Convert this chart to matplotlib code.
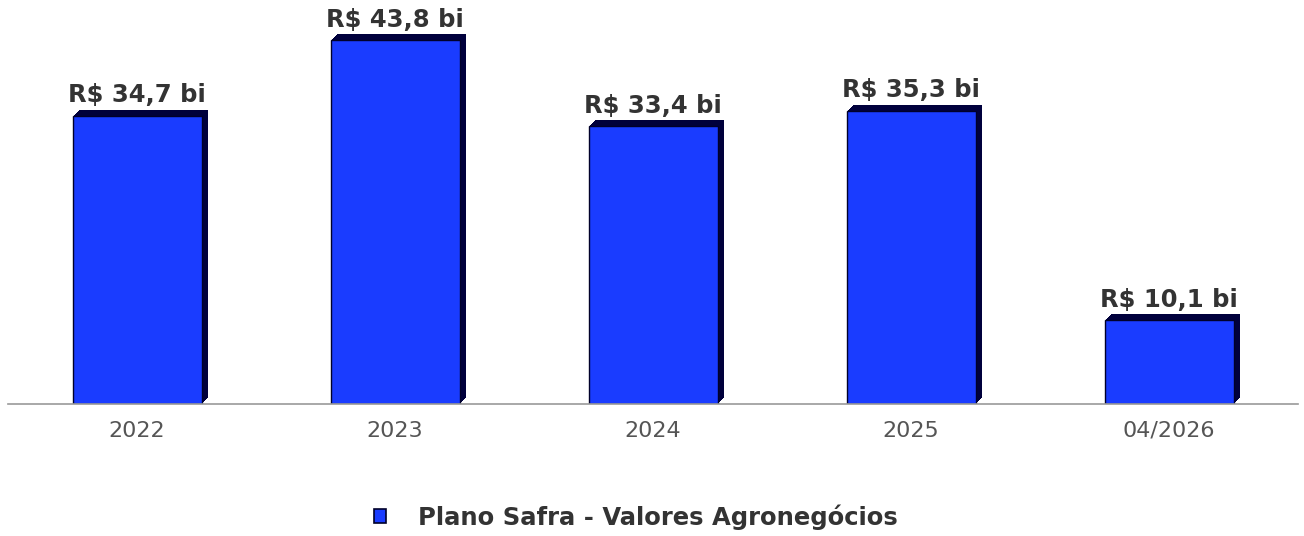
import matplotlib
matplotlib.use("Agg")
import matplotlib.pyplot as plt
import matplotlib.transforms as mtransforms
from matplotlib.patches import Patch

plt.rcParams["font.family"] = ["DejaVu Sans"]

categories = ["2022", "2023", "2024", "2025", "04/2026"]
values = [34.7, 43.8, 33.4, 35.3, 10.1]
labels = ["R$ 34,7 bi", "R$ 43,8 bi", "R$ 33,4 bi", "R$ 35,3 bi", "R$ 10,1 bi"]
series_name = "Plano Safra - Valores Agronegócios"

W, H = 1304, 536
fig = plt.figure(figsize=(W / 100, H / 100), dpi=100)
ax = fig.add_axes([8 / W, 132 / H, 1290 / W, 399 / H])

x = list(range(len(categories)))
# 3D-like extrusion (dark shadow offset up-right)
for k in range(1, 7):
    tr = ax.transData + mtransforms.ScaledTranslation(k / 100, k / 100, fig.dpi_scale_trans)
    ax.bar(x, values, width=0.5, color="#00003c", edgecolor="none",
           linewidth=0, zorder=2, transform=tr)
ax.bar(x, values, width=0.5, color="#1a3cff", edgecolor="#00002a",
       linewidth=1.0, zorder=3)

for xi, v, lab in zip(x, values, labels):
    ax.annotate(lab, (xi, v), xytext=(0, 6), textcoords="offset points",
                ha="center", va="bottom", fontsize=17.5, fontweight="bold",
                color="#333333", zorder=5)

ax.set_xlim(-0.5, len(categories) - 0.5)
ax.set_ylim(0, 48)
ax.set_xticks(x)
ax.set_xticklabels(categories, fontsize=16, color="#555555")
ax.tick_params(axis="x", length=0, pad=12)
ax.set_yticks([])
for s in ["top", "left", "right"]:
    ax.spines[s].set_visible(False)
ax.spines["bottom"].set_color("#999999")
ax.spines["bottom"].set_linewidth(1.2)
ax.spines["bottom"].set_zorder(4)

handle = Patch(facecolor="#1a3cff", edgecolor="#00002a", linewidth=1.2)
leg = fig.legend([handle], [series_name], loc="center", bbox_to_anchor=(636 / W, 19 / H),
                 frameon=False, handlelength=0.5, handleheight=0.5, handletextpad=1.3,
                 prop={"weight": "bold", "size": 17.5})
for t in leg.get_texts():
    t.set_color("#333333")

fig.savefig("out.png", dpi=100)
